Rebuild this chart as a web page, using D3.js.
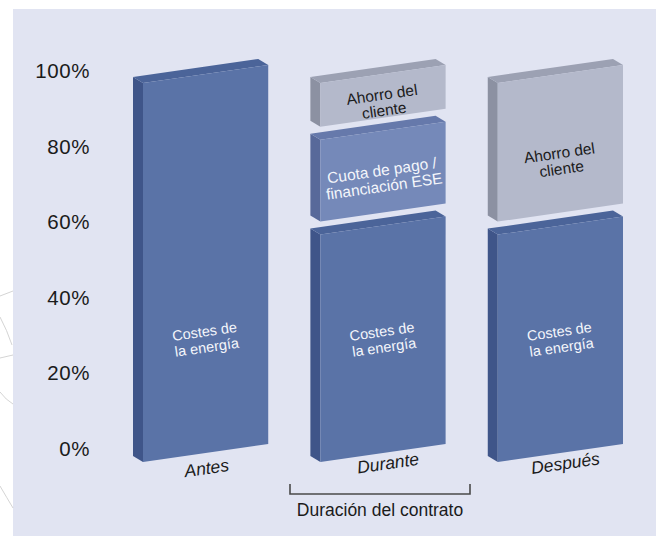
<!DOCTYPE html>
<html><head><meta charset="utf-8">
<script src="https://cdn.jsdelivr.net/npm/d3@7/dist/d3.min.js"></script>
<style>
html,body{margin:0;padding:0;background:#fff;}
svg{display:block;font-family:"Liberation Sans",Arial,Helvetica,sans-serif;}
</style></head>
<body>
<svg id="chart" width="656" height="536"></svg>
<script>
// ---- data ----
const categories = ["Antes", "Durante", "Después"];
const seriesNames = ["Costes de la energía", "Cuota de pago / financiación ESE", "Ahorro del cliente"];
const costes = [100, 60, 60];
const cuota  = [0, 25, 0];
const ahorro = [0, 15, 40];
const yTicks = [0, 20, 40, 60, 80, 100];
const labelLines = [["Costes de", "la energía"], ["Cuota de pago /", "financiación ESE"], ["Ahorro del", "cliente"]];
const bracketLabel = "Duración del contrato";
const bracketCategory = "Durante";

// ---- styling ----
const faceColors = [
  {front: "#5a73a7", side: "#3f5589", top: "#4b6499", text: "#f4f6fb"},
  {front: "#7589b9", side: "#58699a", top: "#6679ab", text: "#f4f6fb"},
  {front: "#b4b9cb", side: "#8c91a2", top: "#9ca1b3", text: "#1b1b1b"}
];

const svg = d3.select("#chart");
const W = 656, H = 536;

// background panel
svg.append("rect").attr("x", 13).attr("y", 9).attr("width", W - 13).attr("height", H - 9).attr("fill", "#e1e4f2");
// faint decorative lines at left
const deco = svg.append("g").attr("fill", "none").attr("stroke", "#c9c9c9").attr("stroke-width", 0.8);
deco.append("path").attr("d", "M0,296 L13,291");
deco.append("path").attr("d", "M0,317 Q7,330 12,345");
deco.append("path").attr("d", "M0,358 L13,355");
deco.append("path").attr("d", "M0,392 Q6,400 13,404");
deco.append("path").attr("d", "M0,486 Q7,498 13,508");

// ---- scales ----
const x = d3.scaleBand().domain(categories).range([143, 623]).paddingInner(0.294).paddingOuter(0);
const y = d3.scaleLinear().domain([0, 100]).range([462, 83]);
const bw = x.bandwidth();
const slope = 18 / 125;           // perspective rise per px to the right
const dx = -10, dy = -6;          // depth offset
const gap = 13;
const angle = (-Math.atan(slope) * 180 / Math.PI).toFixed(2);

// stacked rows
const rows = categories.map((c, i) => ({cat: c, s0: costes[i], s1: cuota[i], s2: ahorro[i]}));
const stack = d3.stack().keys(["s0", "s1", "s2"]);
const stacked = stack(rows);

const barsG = svg.append("g");
const labelsG = svg.append("g");
stacked.forEach((layer, si) => {
  layer.forEach(d => {
    const v0 = d[0], v1 = d[1];
    if (v1 - v0 <= 0) return;
    const cat = d.data.cat;
    const xl = x(cat), xr = xl + bw;
    const yb = y(v0) - (v0 > 0 ? gap : 0);
    const yt = y(v1);
    const rise = slope * bw;
    const col = faceColors[si];
    const g = barsG.append("g");
    // side face
    g.append("path").attr("fill", col.side).attr("d",
      `M${xl},${yt} L${xl},${yb} L${xl + dx},${yb + dy} L${xl + dx},${yt + dy} Z`);
    // top face
    g.append("path").attr("fill", col.top).attr("d",
      `M${xl},${yt} L${xr},${yt - rise} L${xr + dx},${yt - rise + dy} L${xl + dx},${yt + dy} Z`);
    // front face
    g.append("path").attr("fill", col.front).attr("d",
      `M${xl},${yt} L${xr},${yt - rise} L${xr},${yb - rise} L${xl},${yb} Z`);
    // label
    let mid = (v0 + v1) / 2;
    if (si === 0) mid = Math.min(mid, 30);
    const cx = xl + bw / 2;
    const cy = y(mid) - rise / 2 + (si === 2 && v0 === 60 ? 11 : 0);
    const lg = labelsG.append("g").attr("transform", `translate(${cx.toFixed(1)},${cy.toFixed(1)}) rotate(${angle})`);
    labelLines[si].forEach((ln, li) => {
      lg.append("text")
        .attr("x", 0)
        .attr("y", (li - (labelLines[si].length - 1) / 2) * 16)
        .attr("dy", "0.35em")
        .attr("text-anchor", "middle")
        .attr("fill", col.text)
        .attr("font-size", si === 0 ? 14.5 : 15.5)
        .text(ln);
    });
  });
});

// category labels
svg.append("g").selectAll("g").data(categories).join("g")
  .attr("transform", (c, i) => {
    const cx = x(c) + bw / 2 + (i === 0 ? 1 : 5);
    const cy = y(0) - slope * bw / 2 + (i === 0 ? 15 : 10);
    return `translate(${cx.toFixed(1)},${cy.toFixed(1)}) rotate(${angle})`;
  })
  .append("text")
  .attr("text-anchor", "middle").attr("dy", "0.35em")
  .attr("font-style", "italic").attr("font-size", 17.5).attr("fill", "#1b1b1b")
  .text(d => d);

// y axis labels
const yLab = y.copy().range([449, 71]);
const axis = d3.axisLeft(yLab).tickValues(yTicks).tickSize(0).tickPadding(0).tickFormat(d => d + "%");
const ag = svg.append("g").attr("transform", "translate(90,0)").call(axis);
ag.select(".domain").remove();
ag.selectAll("text").attr("font-size", 20.5).attr("fill", "#1b1b1b")
  .attr("font-family", "'Liberation Sans',Arial,sans-serif").attr("letter-spacing", "0.6px");

// bracket under "Durante"
const bc = x(bracketCategory) + bw / 2 - 3;
const bx0 = bc - 90, bx1 = bc + 90, by = 494;
svg.append("path").attr("fill", "none").attr("stroke", "#4a4a4a").attr("stroke-width", 1.6)
  .attr("d", `M${bx0},${by - 10} L${bx0},${by} L${bx1},${by} L${bx1},${by - 10}`);
svg.append("text").attr("x", bc).attr("y", 510).attr("dy", "0.35em")
  .attr("text-anchor", "middle").attr("font-size", 17.5).attr("fill", "#1b1b1b")
  .text(bracketLabel);
</script>
</body></html>
